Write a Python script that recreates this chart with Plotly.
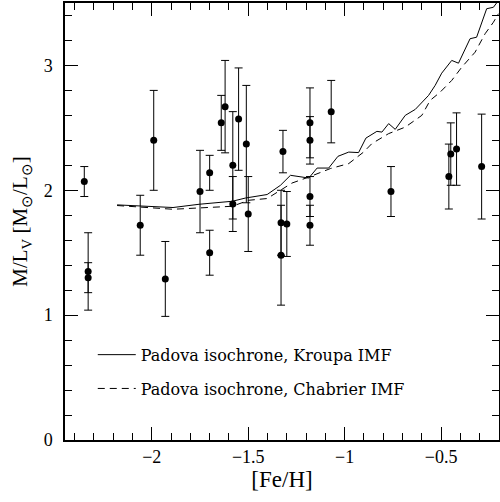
import plotly.graph_objects as go

# Observed data: [Fe/H], M/L_V and its error
feh = [-2.35, -2.33, -2.33, -2.06, -1.99, -1.93, -1.75, -1.70, -1.70, -1.64,
       -1.62, -1.58, -1.58, -1.55, -1.51, -1.50, -1.32, -1.33, -1.33, -1.30,
       -1.18, -1.18, -1.18, -1.18, -1.07, -0.76, -0.46, -0.45, -0.42, -0.29]
ml = [2.07, 1.35, 1.30, 1.72, 2.40, 1.29, 1.99, 2.14, 1.50, 2.54,
      2.67, 2.20, 1.89, 2.57, 2.37, 1.81, 2.31, 1.74, 1.48, 1.73,
      2.54, 2.40, 1.95, 1.72, 2.63, 1.99, 2.11, 2.29, 2.33, 2.19]
ml_err = [0.12, 0.31, 0.12, 0.24, 0.40, 0.30, 0.33, 0.14, 0.18, 0.22,
          0.37, 0.43, 0.22, 0.41, 0.47, 0.30, 0.17, 0.26, 0.40, 0.26,
          0.28, 0.19, 0.16, 0.16, 0.25, 0.20, 0.26, 0.25, 0.29, 0.42]

# Padova isochrone, Kroupa IMF
kroupa_feh = [-2.18, -1.89, -1.755, -1.583, -1.514, -1.402, -1.333, -1.281, -1.186,
              -1.143, -1.083, -1.035, -0.979, -0.928, -0.890, -0.833, -0.807, -0.772,
              -0.738, -0.686, -0.634, -0.565, -0.531, -0.497, -0.445, -0.410, -0.350,
              -0.316, -0.264, -0.229, -0.203]
kroupa_ml = [1.883, 1.862, 1.888, 1.912, 1.938, 1.966, 2.04, 2.12, 2.098,
             2.178, 2.178, 2.272, 2.306, 2.302, 2.418, 2.472, 2.466, 2.534,
             2.488, 2.60, 2.648, 2.76, 2.84, 2.938, 3.04, 3.018, 3.214,
             3.226, 3.454, 3.466, 3.52]

# Padova isochrone, Chabrier IMF
chab_feh = [-2.18, -1.89, -1.583, -1.497, -1.402, -1.324, -1.273, -1.186, -1.074,
            -0.979, -0.902, -0.859, -0.772, -0.686, -0.600, -0.557, -0.505, -0.445,
            -0.393, -0.324, -0.272, -0.229, -0.203]
chab_ml = [1.878, 1.848, 1.872, 1.92, 1.934, 2.006, 2.058, 2.106, 2.174,
           2.214, 2.306, 2.374, 2.454, 2.506, 2.60, 2.72, 2.786, 2.88,
           2.986, 3.106, 3.254, 3.346, 3.414]

fig = go.Figure()
fig.add_trace(go.Scatter(
    x=feh, y=ml, mode="markers",
    marker=dict(color="black", size=7),
    error_y=dict(type="data", array=ml_err, color="black", thickness=1, width=4),
    showlegend=False,
))
fig.add_trace(go.Scatter(
    x=kroupa_feh, y=kroupa_ml, mode="lines",
    line=dict(color="black", width=1),
    name="Padova isochrone, Kroupa IMF", legendgroup="a",
))
fig.add_trace(go.Scatter(
    x=chab_feh, y=chab_ml, mode="lines",
    line=dict(color="black", width=1, dash="7px,5px"),
    name="Padova isochrone, Chabrier IMF", legendgroup="b",
))

axis_common = dict(
    showgrid=False, zeroline=False, showline=True, linecolor="black", linewidth=1.5,
    mirror="ticks", ticks="inside", tickcolor="black", tickwidth=1.2, automargin=False,
    tickfont=dict(family="Liberation Serif", size=18, color="black"),
)

fig.update_xaxes(
    range=[-2.45, -0.2], tickvals=[-2, -1.5, -1, -0.5], ticklen=13,
    minor=dict(dtick=0.1, ticks="inside", ticklen=7, tickcolor="black", tickwidth=1),
    title=dict(text="[Fe/H]", font=dict(family="Liberation Serif", size=23, color="black"), standoff=4),
    **axis_common,
)
fig.update_yaxes(
    range=[0, 3.5], tickvals=[0, 1, 2, 3], ticklen=13, ticklabelstandoff=7,
    minor=dict(dtick=0.2, ticks="inside", ticklen=7, tickcolor="black", tickwidth=1),
    title=dict(text="M/L<sub>V</sub> [M<sub>⊙</sub>/L<sub>⊙</sub>]",
               font=dict(family="Liberation Serif", size=21, color="black"), standoff=10),
    **axis_common,
)

fig.update_layout(
    width=500, height=502,
    margin=dict(l=65, r=1, t=3, b=62),
    paper_bgcolor="white", plot_bgcolor="white",
    legend=dict(x=0.064, y=0.234, xanchor="left", yanchor="top", itemwidth=38,
                bgcolor="rgba(0,0,0,0)", traceorder="grouped", tracegroupgap=10,
                font=dict(family="DejaVu Serif", size=16, color="black")),
)

fig.write_html("out.html", config={"displayModeBar": False},
               post_script="document.body.style.margin='0';document.body.style.overflow='hidden';")
